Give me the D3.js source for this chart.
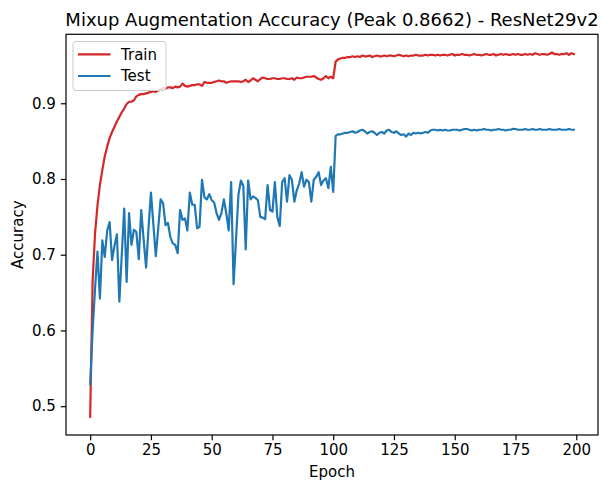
<!DOCTYPE html>
<meta charset="utf-8">
<style>
body { margin: 0; background: #fff; }
text { font-family: "DejaVu Sans", sans-serif; fill: #000; }
.axis text { font-size: 15px; }
.axis path, .axis line { stroke: #000; stroke-width: 1.2px; }
</style>
<svg width="603" height="485"></svg>
<script src="https://d3js.org/d3.v7.min.js"></script>
<script>

var trainAcc = [
  0.486, 0.665, 0.728, 0.765, 0.792, 0.812, 0.830, 0.843, 0.854, 0.862,
  0.869, 0.876, 0.882, 0.888, 0.893, 0.899, 0.902, 0.902, 0.904, 0.909,
  0.911, 0.912, 0.912, 0.913, 0.914, 0.915, 0.916, 0.915, 0.917, 0.918,
  0.920, 0.919, 0.921, 0.921, 0.920, 0.922, 0.921, 0.922, 0.926, 0.923,
  0.922, 0.923, 0.924, 0.924, 0.925, 0.925, 0.923, 0.928, 0.927, 0.927,
  0.927, 0.928, 0.929, 0.930, 0.929, 0.929, 0.927, 0.928, 0.929, 0.929,
  0.929, 0.929, 0.928, 0.929, 0.931, 0.928, 0.930, 0.933, 0.931, 0.929,
  0.932, 0.934, 0.933, 0.932, 0.932, 0.933, 0.933, 0.932, 0.932, 0.933,
  0.933, 0.932, 0.932, 0.933, 0.931, 0.934, 0.933, 0.933, 0.934, 0.935,
  0.935, 0.935, 0.936, 0.934, 0.932, 0.931, 0.933, 0.936, 0.933, 0.935,
  0.933, 0.955, 0.958, 0.959, 0.960, 0.960, 0.961, 0.961, 0.962, 0.961,
  0.962, 0.961, 0.963, 0.962, 0.962, 0.963, 0.961, 0.962, 0.963, 0.962,
  0.962, 0.963, 0.962, 0.963, 0.963, 0.962, 0.963, 0.964, 0.963, 0.962,
  0.963, 0.962, 0.963, 0.963, 0.964, 0.963, 0.963, 0.963, 0.964, 0.963,
  0.964, 0.964, 0.963, 0.964, 0.963, 0.964, 0.964, 0.963, 0.964, 0.965,
  0.963, 0.964, 0.964, 0.965, 0.964, 0.964, 0.963, 0.964, 0.965, 0.964,
  0.964, 0.963, 0.964, 0.965, 0.964, 0.964, 0.965, 0.963, 0.964, 0.965,
  0.964, 0.965, 0.964, 0.964, 0.965, 0.964, 0.965, 0.964, 0.964, 0.965,
  0.964, 0.965, 0.964, 0.966, 0.965, 0.964, 0.965, 0.965, 0.964, 0.965,
  0.967, 0.965, 0.965, 0.964, 0.965, 0.965, 0.966, 0.964, 0.966, 0.965
];

var testAcc = [
  0.529, 0.600, 0.655, 0.704, 0.642, 0.719, 0.697, 0.732, 0.743, 0.693,
  0.712, 0.727, 0.638, 0.700, 0.761, 0.664, 0.755, 0.713, 0.733, 0.730,
  0.694, 0.759, 0.720, 0.683, 0.735, 0.782, 0.740, 0.698, 0.735, 0.773,
  0.768, 0.739, 0.742, 0.723, 0.715, 0.713, 0.702, 0.759, 0.746, 0.748,
  0.732, 0.782, 0.766, 0.766, 0.735, 0.737, 0.799, 0.776, 0.773, 0.780,
  0.772, 0.769, 0.755, 0.746, 0.755, 0.773, 0.755, 0.732, 0.796, 0.661,
  0.720, 0.779, 0.798, 0.791, 0.707, 0.798, 0.773, 0.777, 0.775, 0.772,
  0.750, 0.749, 0.747, 0.792, 0.759, 0.757, 0.796, 0.750, 0.738, 0.796,
  0.801, 0.770, 0.805, 0.799, 0.770, 0.785, 0.794, 0.809, 0.790, 0.799,
  0.796, 0.770, 0.799, 0.803, 0.809, 0.792, 0.798, 0.801, 0.788, 0.816,
  0.783, 0.857, 0.859, 0.859, 0.860, 0.861, 0.861, 0.862, 0.863, 0.861,
  0.862, 0.864, 0.865, 0.863, 0.860, 0.862, 0.863, 0.861, 0.858, 0.861,
  0.862, 0.860, 0.864, 0.865, 0.862, 0.861, 0.863, 0.860, 0.858, 0.859,
  0.856, 0.860, 0.858, 0.861, 0.860, 0.861, 0.860, 0.861, 0.862, 0.861,
  0.864, 0.865, 0.865, 0.864, 0.865, 0.864, 0.865, 0.864, 0.864, 0.865,
  0.865, 0.865, 0.864, 0.865, 0.866, 0.866, 0.865, 0.864, 0.865, 0.864,
  0.865, 0.865, 0.866, 0.865, 0.865, 0.864, 0.865, 0.865, 0.866, 0.865,
  0.865, 0.864, 0.865, 0.865, 0.8662, 0.866, 0.865, 0.865, 0.865, 0.866,
  0.865, 0.865, 0.866, 0.865, 0.865, 0.866, 0.865, 0.865, 0.865, 0.866,
  0.865, 0.865, 0.865, 0.866, 0.865, 0.865, 0.865, 0.866, 0.865, 0.865
];

var xTicks = [0, 25, 50, 75, 100, 125, 150, 175, 200];
var yTicks = [0.5, 0.6, 0.7, 0.8, 0.9];
var seriesNames = ["Train", "Test"];
var seriesColors = ["#d62728", "#1f77b4"];

var svg = d3.select("svg"),
    pl = 66, pr = 598, pt = 34.3, pb = 435;

var n = trainAcc.length;
var all = trainAcc.concat(testAcc);
var ymin = d3.min(all), ymax = d3.max(all), ypad = (ymax - ymin) * 0.05;
var xpad = (n - 1) * 0.05;

var x = d3.scaleLinear().domain([-xpad, n - 1 + xpad]).range([pl, pr]);
var y = d3.scaleLinear().domain([ymin - ypad, ymax + ypad]).range([pb, pt]);

var line = d3.line()
    .x((d, i) => x(i))
    .y((d) => y(d));

var plot = svg.append("g");
[trainAcc, testAcc].forEach(function(s, k) {
  plot.append("path")
      .datum(s)
      .attr("d", line)
      .attr("fill", "none")
      .attr("stroke", seriesColors[k])
      .attr("stroke-width", 2.2)
      .attr("stroke-linejoin", "round")
      .attr("stroke-linecap", "square");
});

// frame
svg.append("rect")
    .attr("x", pl).attr("y", pt)
    .attr("width", pr - pl).attr("height", pb - pt)
    .attr("fill", "none").attr("stroke", "#000").attr("stroke-width", 1.2);

var xAxis = svg.append("g")
    .attr("class", "axis")
    .attr("transform", "translate(0," + pb + ")")
    .call(d3.axisBottom(x).tickValues(xTicks).tickSize(5.2).tickPadding(4.6).tickFormat(d3.format("d")));
xAxis.select(".domain").remove();

var yAxis = svg.append("g")
    .attr("class", "axis")
    .attr("transform", "translate(" + pl + ",0)")
    .call(d3.axisLeft(y).tickValues(yTicks).tickSize(5.2).tickPadding(5).tickFormat(d3.format(".1f")));
yAxis.select(".domain").remove();
svg.selectAll(".axis text").attr("fill", "#000");

svg.append("text")
    .attr("x", (pl + pr) / 2).attr("y", 25.5)
    .attr("text-anchor", "middle")
    .style("font-size", "18px")
    .text("Mixup Augmentation Accuracy (Peak 0.8662) - ResNet29v2");

svg.append("text")
    .attr("x", (pl + pr) / 2).attr("y", 476.5)
    .attr("text-anchor", "middle")
    .style("font-size", "15px")
    .text("Epoch");

svg.append("text")
    .attr("transform", "translate(23," + (pt + pb) / 2 + ") rotate(-90)")
    .attr("text-anchor", "middle")
    .style("font-size", "15px")
    .text("Accuracy");

// legend
var legend = svg.append("g");
legend.append("rect")
    .attr("x", 73).attr("y", 41.5)
    .attr("width", 93).attr("height", 49)
    .attr("rx", 3)
    .attr("fill", "#fff").attr("fill-opacity", 0.8)
    .attr("stroke", "#ccc").attr("stroke-width", 1);

var rows = legend.selectAll("g.row")
    .data(seriesNames)
    .enter().append("g")
    .attr("class", "row")
    .attr("transform", (d, i) => "translate(0," + (54.3 + i * 21.7) + ")");

rows.append("line")
    .attr("x1", 78).attr("x2", 110.5)
    .attr("stroke", (d, i) => seriesColors[i])
    .attr("stroke-width", 2.2);

rows.append("text")
    .attr("x", 121).attr("y", 5.3)
    .style("font-size", "15px")
    .text((d) => d);

</script>
